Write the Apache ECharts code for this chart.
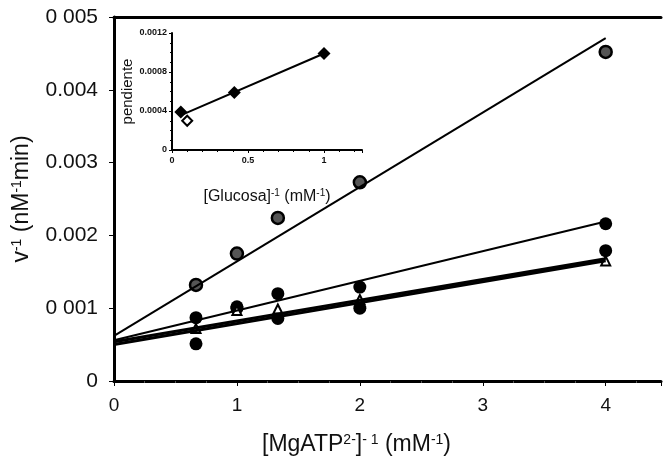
<!DOCTYPE html>
<html>
<head>
<meta charset="utf-8">
<script src="https://cdn.jsdelivr.net/npm/echarts@6/dist/echarts.min.js"></script>
<style>
  html, body { margin: 0; padding: 0; background: #fff; }
  #main { width: 664px; height: 468px; }
</style>
</head>
<body>
<div id="main"></div>
<script>
// datos
var xVals = [0.667, 1, 1.333, 2, 4];
var serieA = [0.00132, 0.00175, 0.00224, 0.00273, 0.00452];   // círculo con punto
var serieB = [0.00087, 0.00102, 0.0012, 0.00129, 0.00216];     // círculo negro
var serieC = [0.00051, 0.001, 0.00086, 0.001, 0.00179];        // círculo negro
var serieD = [0.00072, 0.00097, 0.00099, 0.00112, 0.00165];    // triángulo
// rectas ajustadas (x = 0 y x = 4)
var lineX = [0, 4];
var rectaA = [0.00062, 0.00471];
var rectaB = [0.00056, 0.00219];
var rectaC = [0.00054, 0.00168];
var rectaD = [0.00050, 0.00165];
var yTickLabels = ['0', '0 001', '0.002', '0.003', '0.004', '0 005'];
var xTickLabels = ['0', '1', '2', '3', '4'];

// inserto: pendiente vs [Glucosa]-1
var insetX = [0.058, 0.41, 1.0];
var insetY = [0.00039, 0.00059, 0.00099];
var insetOpenX = [0.10];
var insetOpenY = [0.0003];
var insetLineX = [0.064, 1.0];
var insetLineY = [0.00036, 0.00099];
var insetYLabels = ['0', '0.0004', '0.0008', '0.0012'];
var insetXLabels = ['0', '0.5', '1'];

function pares(xs, ys) {
    return xs.map(function (x, i) { return [x, ys[i]]; });
}

var chart = echarts.init(document.getElementById('main'));
var fuente = 'Liberation Sans, Arial, sans-serif';

function recta(datos, ancho) {
    return {
        type: 'line', xAxisIndex: 0, yAxisIndex: 0,
        data: pares(lineX, datos), symbol: 'none', silent: true,
        lineStyle: { color: '#000', width: ancho }
    };
}

chart.setOption({
    animation: false,
    backgroundColor: '#fff',
    textStyle: { fontFamily: fuente },
    grid: [
        { left: 114, right: 0, top: 17, bottom: 87 },
        { left: 172, right: 302, top: 33, bottom: 318 }
    ],
    xAxis: [
        {
            type: 'value', gridIndex: 0, min: 0, max: 4.45, interval: 1,
            axisLine: { lineStyle: { color: '#000', width: 3 } },
            axisTick: { length: 5, lineStyle: { color: '#000' } },
            minorTick: { show: true, splitNumber: 4, length: 2, lineStyle: { color: '#555' } },
            splitLine: { show: false },
            axisLabel: {
                color: '#111', fontSize: 19, margin: 15,
                formatter: function (v) {
                    return Math.abs(v - Math.round(v)) < 1e-6 ? (xTickLabels[Math.round(v)] || '') : '';
                }
            },
            name: '{n|[MgATP}{s|2-}{n|]}{s|- 1}{n| (mM}{s|-1}{n|)}',
            nameLocation: 'middle', nameGap: 52,
            nameTextStyle: {
                padding: [0, 62, 0, 0],
                rich: {
                    n: { fontSize: 23, color: '#111', fontFamily: fuente },
                    s: { fontSize: 14, color: '#111', fontFamily: fuente, verticalAlign: 'top', padding: [0, 0, 10, 0] }
                }
            }
        },
        {
            type: 'value', gridIndex: 0, position: 'top', min: 0, max: 4.45,
            axisLine: { show: true, onZero: false, lineStyle: { color: '#000', width: 3 } },
            axisTick: { show: false }, axisLabel: { show: false }, splitLine: { show: false }
        },
        {
            type: 'value', gridIndex: 1, min: 0, max: 1.25, interval: 0.5,
            axisLine: { lineStyle: { color: '#000', width: 2 } },
            axisTick: { length: 3, lineStyle: { color: '#000' } },
            minorTick: { show: true, splitNumber: 5, length: 2, lineStyle: { color: '#000' } },
            splitLine: { show: false },
            axisLabel: {
                color: '#111', fontSize: 9, fontWeight: 'bold', margin: 6,
                formatter: function (v) { return insetXLabels[Math.round(v * 2)] || ''; }
            },
            name: '{n|[Glucosa]}{s|-1}{n| (mM}{s|-1}{n|)}',
            nameLocation: 'middle', nameGap: 38,
            nameTextStyle: {
                rich: {
                    n: { fontSize: 16, color: '#111', fontFamily: fuente },
                    s: { fontSize: 10, color: '#111', fontFamily: fuente, verticalAlign: 'top', padding: [0, 0, 7, 0] }
                }
            }
        }
    ],
    yAxis: [
        {
            type: 'value', gridIndex: 0, min: 0, max: 0.005, interval: 0.001,
            axisLine: { show: true, lineStyle: { color: '#000', width: 3 } },
            axisTick: { show: true, length: 5, lineStyle: { color: '#000' } },
            splitLine: { show: false },
            axisLabel: {
                color: '#111', fontSize: 21, margin: 16,
                formatter: function (v) { return yTickLabels[Math.round(v * 1000)] || ''; }
            },
            name: '{n|v}{s|-1}{n| (nM}{s|-1}{n|min)}',
            nameLocation: 'middle', nameGap: 80, nameRotate: 90,
            nameTextStyle: {
                rich: {
                    n: { fontSize: 23, color: '#111', fontFamily: fuente },
                    s: { fontSize: 14, color: '#111', fontFamily: fuente, verticalAlign: 'top', padding: [0, 0, 10, 0] }
                }
            }
        },
        {
            type: 'value', gridIndex: 1, min: 0, max: 0.0012, interval: 0.0004,
            axisLine: { show: true, lineStyle: { color: '#000', width: 2 } },
            axisTick: { show: true, length: 3, lineStyle: { color: '#000' } },
            minorTick: { show: true, splitNumber: 4, length: 2, lineStyle: { color: '#000' } },
            splitLine: { show: false },
            axisLabel: {
                color: '#111', fontSize: 9, fontWeight: 'bold', margin: 5,
                formatter: function (v) { return insetYLabels[Math.round(v / 0.0004)] || ''; }
            },
            name: 'pendiente', nameLocation: 'middle', nameGap: 36, nameRotate: 90,
            nameTextStyle: { fontSize: 15, color: '#111' }
        }
    ],
    series: [
        recta(rectaA, 2),
        recta(rectaB, 2),
        recta(rectaC, 3),
        recta(rectaD, 3),
        {
            type: 'scatter', xAxisIndex: 0, yAxisIndex: 0, data: pares(xVals, serieA),
            symbol: 'circle', symbolSize: 12,
            itemStyle: { color: '#555', borderColor: '#000', borderWidth: 2.5, opacity: 1 }
        },
        {
            type: 'scatter', xAxisIndex: 0, yAxisIndex: 0, data: pares(xVals, serieB),
            symbol: 'circle', symbolSize: 13, itemStyle: { color: '#000', opacity: 1 }
        },
        {
            type: 'scatter', xAxisIndex: 0, yAxisIndex: 0, data: pares(xVals, serieC),
            symbol: 'circle', symbolSize: 13, itemStyle: { color: '#000', opacity: 1 }
        },
        {
            type: 'scatter', xAxisIndex: 0, yAxisIndex: 0, data: pares(xVals, serieD),
            symbol: 'triangle', symbolSize: 9,
            itemStyle: { color: '#fff', borderColor: '#000', borderWidth: 2, opacity: 1 }
        },
        {
            type: 'line', xAxisIndex: 2, yAxisIndex: 1, data: pares(insetLineX, insetLineY),
            symbol: 'none', lineStyle: { color: '#000', width: 2 }
        },
        {
            type: 'scatter', xAxisIndex: 2, yAxisIndex: 1, data: pares(insetX, insetY),
            symbol: 'diamond', symbolSize: 13, itemStyle: { color: '#000', opacity: 1 }
        },
        {
            type: 'scatter', xAxisIndex: 2, yAxisIndex: 1, data: pares(insetOpenX, insetOpenY),
            symbol: 'diamond', symbolSize: 10,
            itemStyle: { color: '#fff', borderColor: '#000', borderWidth: 2, opacity: 1 }
        }
    ]
});
</script>
</body>
</html>
